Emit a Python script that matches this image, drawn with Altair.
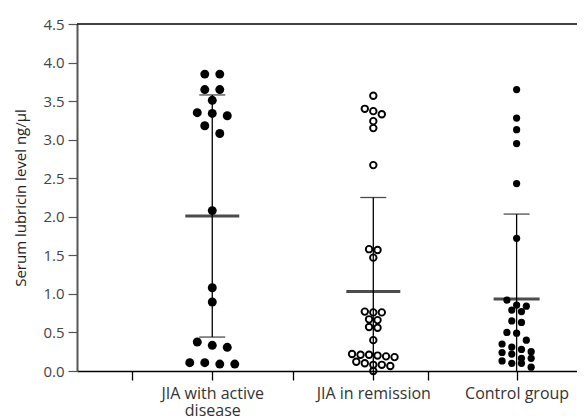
import altair as alt
import pandas as pd

# ---------------- data ----------------
groups = ["JIA with active disease", "JIA in remission", "Control group"]
label_lines = [["JIA with active", "disease"], ["JIA in remission"], ["Control group"]]
group_pos = [1.0, 2.0, 2.89]
extra_ticks = [0.5, 1.5, 2.34]
y_ticks = [0.0, 0.5, 1.0, 1.5, 2.0, 2.5, 3.0, 3.5, 4.0, 4.5]

active = [3.85, 3.85, 3.65, 3.65, 3.51, 3.35, 3.34, 3.31, 3.18, 3.08,
          2.08, 1.08, 0.895, 0.376, 0.333, 0.307, 0.108, 0.108, 0.09, 0.09]
remission = [3.57, 3.40, 3.37, 3.33, 3.24, 3.15, 2.67, 1.58, 1.57, 1.47,
             0.77, 0.76, 0.76, 0.67, 0.66, 0.57, 0.56, 0.40,
             0.22, 0.21, 0.21, 0.20, 0.19, 0.18, 0.12, 0.10, 0.08, 0.08, 0.065, 0.0]
control = [3.65, 3.28, 3.13, 2.95, 2.43, 1.72, 0.92, 0.855, 0.84, 0.79,
           0.77, 0.65, 0.63, 0.50, 0.49, 0.40, 0.35, 0.31, 0.28, 0.25,
           0.24, 0.22, 0.165, 0.165, 0.13, 0.10, 0.10, 0.05]
means = [2.01, 1.03, 0.935]
sds = [1.57, 1.22, 1.10]

# ---------------- layout / style ----------------
W, H = 500, 347
X_DOMAIN = [0.16, 3.265]
PX_PER_UNIT = W / (X_DOMAIN[1] - X_DOMAIN[0])
dot_spacing_px = [15, 8.5, 9.7]
row_tol = [0.1, 0.08, 0.1]
mean_bar_px = [54, 54, 46]
FONT = "Open Sans"


def swarm(values, center, spacing_px, tol):
    """Simple scatter-dot layout: close values share a row, rows are centred."""
    vals = sorted(values, reverse=True)
    rows = []
    for v in vals:
        if rows and rows[-1][0] - v <= tol + 1e-9:
            rows[-1].append(v)
        else:
            rows.append([v])
    out = []
    for row in rows:
        n = len(row)
        for i, v in enumerate(row):
            off = (i - (n - 1) / 2) * spacing_px / PX_PER_UNIT
            out.append((center + off, v))
    return out


recs = []
for g, vals in zip(range(3), [active, remission, control]):
    for xx, v in swarm(vals, group_pos[g], dot_spacing_px[g], row_tol[g]):
        recs.append({"group": groups[g], "x": xx, "value": v})
points = pd.DataFrame(recs)

stats = pd.DataFrame({
    "group": groups,
    "pos": group_pos,
    "mean": means,
    "upper": [m + s for m, s in zip(means, sds)],
    "lower_raw": [m - s for m, s in zip(means, sds)],
    "bar_px": mean_bar_px,
})
stats["lower"] = stats["lower_raw"].clip(lower=0)

# ---------------- axes ----------------
def lab(lines):
    if len(lines) == 1:
        return "'" + lines[0] + "'"
    return "[" + ",".join("'" + s + "'" for s in lines) + "]"

expr = "''"
for p, lines in reversed(list(zip(group_pos, label_lines))):
    expr = f"datum.value == {p} ? {lab(lines)} : ({expr})"

xscale = alt.Scale(domain=X_DOMAIN, nice=False, zero=False)
yscale = alt.Scale(domain=[y_ticks[0], y_ticks[-1]], nice=False)

xaxis = alt.Axis(values=sorted(group_pos + extra_ticks), labelExpr=expr, grid=False,
                 title=None, tickSize=9, tickColor="black", tickWidth=1.3,
                 domainColor="black", domainWidth=1.5, labelFont=FONT,
                 labelFontSize=16, labelColor="#333", labelLineHeight=17,
                 labelPadding=5, labelAngle=0, labelFlush=False, labelOverlap=False)
yaxis = alt.Axis(values=y_ticks, format=".1f", grid=False,
                 title="Serum lubricin level ng/\u03bcl", tickSize=9,
                 tickColor="#555", tickWidth=1.2, domainColor="#555", domainWidth=2,
                 labelFont=FONT, labelFontSize=15, labelColor="#444", labelPadding=4,
                 titleFont=FONT, titleFontSize=15, titleFontWeight="normal",
                 titleColor="#222", titlePadding=14)


def X(f):
    return alt.X(f, type="quantitative", scale=xscale, axis=xaxis)


def Y(f):
    return alt.Y(f, type="quantitative", scale=yscale, axis=yaxis)


top_line = alt.Chart(pd.DataFrame({"top": [y_ticks[-1]]})).mark_rule(
    color="black", strokeWidth=1.5).encode(y=Y("top"))

base = alt.Chart(stats)
sd_line = base.mark_rule(color="black", strokeWidth=1.3).encode(
    x=X("pos"), y=Y("lower"), y2="upper")
cap_up = base.mark_tick(orient="horizontal", size=26, thickness=1.3, color="black").encode(
    x=X("pos"), y=Y("upper"))
cap_lo = base.transform_filter("datum.lower_raw >= 0").mark_tick(
    orient="horizontal", size=26, thickness=1.3, color="black").encode(
    x=X("pos"), y=Y("lower_raw"))
mean_bar = base.mark_tick(orient="horizontal", thickness=3, color="black").encode(
    x=X("pos"), y=Y("mean"), size=alt.Size("bar_px:Q", scale=None))

pts = alt.Chart(points)
dots1 = pts.transform_filter(alt.datum.group == groups[0]).mark_circle(
    color="black", opacity=1, size=80).encode(x=X("x"), y=Y("value"))
dots2 = pts.transform_filter(alt.datum.group == groups[1]).mark_point(
    shape="circle", filled=False, color="black", opacity=1, strokeWidth=1.9,
    size=42).encode(x=X("x"), y=Y("value"))
dots3 = pts.transform_filter(alt.datum.group == groups[2]).mark_circle(
    color="black", opacity=1, size=52).encode(x=X("x"), y=Y("value"))

chart = alt.layer(top_line, sd_line, cap_up, cap_lo, mean_bar, dots1, dots2, dots3).properties(
    width=W, height=H,
    autosize=alt.AutoSizeParams(type="none"),
    padding={"left": 69, "top": 16, "right": 0, "bottom": 48},
    background="white",
).configure_view(stroke=None)

chart.save("out.html", embed_options={"renderer": "svg", "actions": False})
